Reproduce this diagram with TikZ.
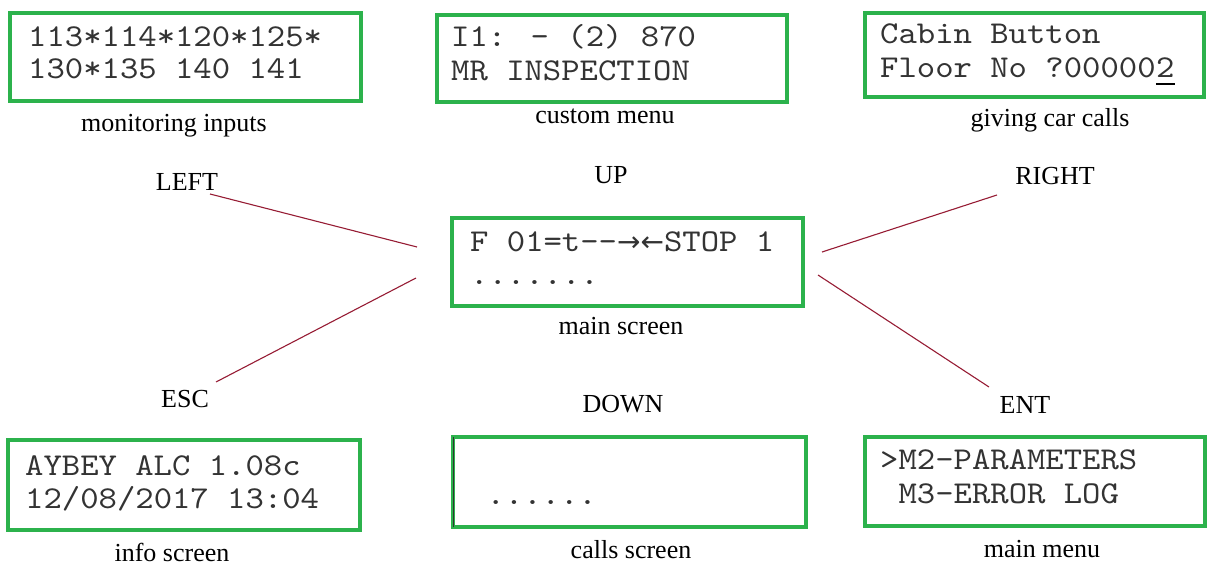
\documentclass[tikz,border=0pt]{standalone}
\usepackage{fontspec}
\setmainfont{Liberation Serif}
\newfontfamily\arrowfont{DejaVu Sans}
\newfontfamily\lcdfont[FakeStretch=1.1]{lmmono10-regular.otf}
\definecolor{scrgreen}{RGB}{44,178,76}
\definecolor{linkred}{RGB}{150,28,52}
\tikzset{
  screen/.style={draw=scrgreen, line width=3.2pt, inner sep=0pt},
  lcd/.style={font=\lcdfont\fontsize{31.8}{31.8}\selectfont, anchor=base west, inner sep=0pt, text=black!80},
  caption/.style={font=\fontsize{26}{26}\selectfont, anchor=base, inner sep=0pt},
  link/.style={draw=linkred, line width=1.1pt},
}
\begin{document}
\begin{tikzpicture}[x=1pt,y=-1pt]
\useasboundingbox (0,0) rectangle (1208,567);

% LCD screens
\node[screen, minimum width=351pt, minimum height=88pt] (mon)   at (185.5,57)   {};
\node[screen, minimum width=350pt, minimum height=87pt] (cus)   at (612,58.5)   {};
\node[screen, minimum width=339pt, minimum height=84pt] (cab)   at (1034.5,55)  {};
\node[screen, line width=4.7pt, minimum width=351pt, minimum height=88pt] (mainscr) at (627.5,262) {};
\node[screen, minimum width=352pt, minimum height=90pt] (info)  at (184,485)    {};
\node[screen, minimum width=353pt, minimum height=90pt] (calls) at (629.5,482)  {};
\node[screen, minimum width=340pt, minimum height=89pt] (menu)  at (1035,481.5) {};
\draw[black!80, line width=1.2pt] ([xshift=2.4pt,yshift=-1.6pt]calls.north west) -- ([xshift=2.4pt,yshift=1.6pt]calls.south west);

% screen contents
\node[lcd] (monA) at (28,47) {113*114*120*125*};
\node[lcd] (monB) at (28,79) {130*135 140 141};
\node[lcd] (cusA) at (451,47) {I1: - (2) 870};
\node[lcd] (cusB) at (451,81) {MR INSPECTION};
\node[lcd] (cabA) at (880,44) {Cabin Button};
\node[lcd] (cabB) at (880,78) {Floor No ?00000};
\node[lcd] (cabC) at (cabB.base east) {2};
\draw[black, line width=1.4pt] ([yshift=-6pt]cabC.base west) -- ([yshift=-6pt]cabC.base east);
\node[lcd] (mainA) at (470,251) {F 01=t--{\arrowfont\fontsize{28}{28}\selectfont →←}STOP 1};
\node[lcd] (mainB) at (470,284) {.......};
\node[lcd] (infoA) at (25,475) {AYBEY ALC 1.08c};
\node[lcd] (infoB) at (25,508) {12/08/2017 13:04};
\node[lcd] (callsB) at (468,504) {\ ......};
\node[lcd] (menuA) at (880,469) {>M2-PARAMETERS};
\node[lcd] (menuB) at (880,503) {\ M3-ERROR LOG};

% captions under the screens
\node[caption] (capmon)   at (174,132)  {monitoring inputs};
\node[caption] (capcus)   at (605,124)  {custom menu};
\node[caption] (capcab)   at (1050,127) {giving car calls};
\node[caption] (capmain)  at (621,334)  {main screen};
\node[caption] (capinfo)  at (172,561)  {info screen};
\node[caption] (capcalls) at (631,558)  {calls screen};
\node[caption] (capmenu)  at (1042,557) {main menu};

% key names
\node[caption] (kleft)  at (187,190)  {LEFT};
\node[caption] (kup)    at (611,183)  {UP};
\node[caption] (kright) at (1055,185) {RIGHT};
\node[caption] (kesc)   at (185,407)  {ESC};
\node[caption] (kdown)  at (623,412)  {DOWN};
\node[caption] (kent)   at (1025,413) {ENT};

% key links to the main screen
\coordinate (lA) at (210,194);  \coordinate (lB) at (417,247);
\coordinate (eA) at (216,382);  \coordinate (eB) at (416,278);
\coordinate (rA) at (997,195);  \coordinate (rB) at (822,252);
\coordinate (nA) at (989,387);  \coordinate (nB) at (818,275);
\draw[link] (lA) -- (lB);
\draw[link] (eA) -- (eB);
\draw[link] (rA) -- (rB);
\draw[link] (nA) -- (nB);
\end{tikzpicture}
\end{document}
